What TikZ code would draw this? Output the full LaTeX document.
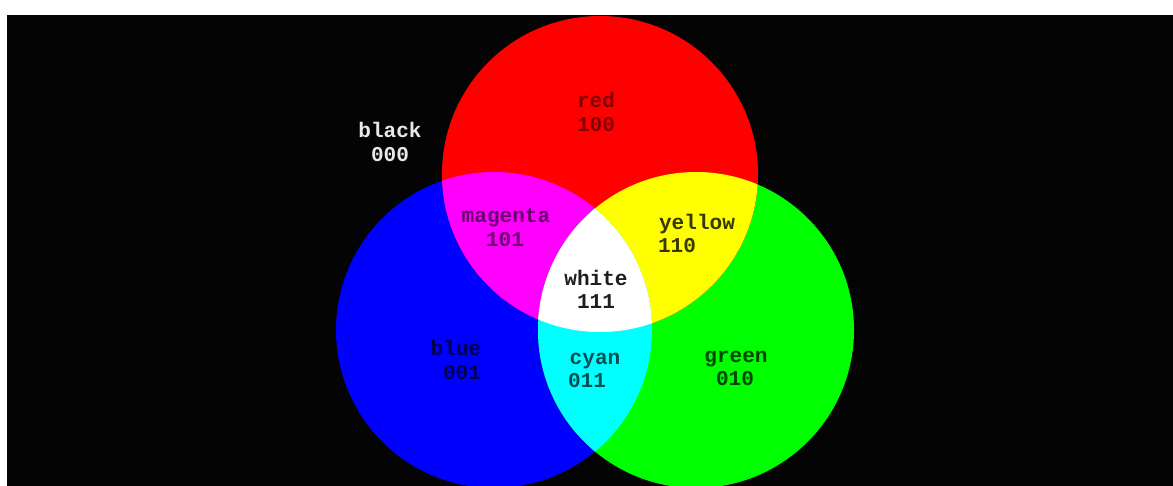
\documentclass[tikz,border=0pt]{standalone}
\usepackage{fontspec}
\setmonofont{Liberation Mono}
\definecolor{bgblack}{RGB}{4,4,4}
\definecolor{purered}{RGB}{255,0,0}
\definecolor{puregreen}{RGB}{0,255,0}
\definecolor{pureblue}{RGB}{0,0,255}
\definecolor{puremagenta}{RGB}{255,0,255}
\definecolor{pureyellow}{RGB}{255,255,0}
\definecolor{purecyan}{RGB}{0,255,255}
\definecolor{purewhite}{RGB}{255,255,255}
\definecolor{txtblack}{RGB}{232,232,232}
\definecolor{txtred}{RGB}{130,0,0}
\definecolor{txtmagenta}{RGB}{105,0,110}
\definecolor{txtyellow}{RGB}{55,55,0}
\definecolor{txtwhite}{RGB}{30,30,30}
\definecolor{txtblue}{RGB}{0,0,80}
\definecolor{txtcyan}{RGB}{0,80,85}
\definecolor{txtgreen}{RGB}{0,70,0}
\tikzset{
  lbl/.style={font=\ttfamily\bfseries\fontsize{18}{21}\selectfont,inner sep=0pt,text height=0.6em,text depth=0pt},
}

\begin{document}
\begin{tikzpicture}[x=0.03cm,y=-0.03cm]
\useasboundingbox[fill=white] (0,0) rectangle (1173,486);
\fill[bgblack] (7,15) rectangle (1173,486);
\def\rad{4.74cm}
\coordinate (R) at (600,174);
\coordinate (B) at (494,330);
\coordinate (G) at (696,330);
\begin{scope}
\clip (7,15) rectangle (1173,486);
\fill[pureblue] (B) circle[radius=\rad];
\fill[puregreen] (G) circle[radius=\rad];
\fill[purered] (R) circle[radius=\rad];
% overlaps
\begin{scope}
\clip (R) circle[radius=\rad];
\fill[puremagenta] (B) circle[radius=\rad];
\fill[pureyellow] (G) circle[radius=\rad];
\end{scope}
\begin{scope}
\clip (B) circle[radius=\rad];
\fill[purecyan] (G) circle[radius=\rad];
\clip (G) circle[radius=\rad];
\fill[purewhite] (R) circle[radius=\rad];
\end{scope}
\end{scope}

\node[lbl,text=txtblack] (blackname) at (390,134) {black};
\node[lbl,text=txtblack] (blackcode) at (390,158) {000};
\node[lbl,text=txtred] (redname) at (596,104) {red};
\node[lbl,text=txtred] (redcode) at (596,128) {100};
\node[lbl,text=txtmagenta] (magentaname) at (506,219) {magenta};
\node[lbl,text=txtmagenta] (magentacode) at (505,243) {101};
\node[lbl,text=txtyellow] (yellowname) at (697,226) {yellow};
\node[lbl,text=txtyellow] (yellowcode) at (677,249) {110};
\node[lbl,text=txtwhite] (whitename) at (596,282) {white};
\node[lbl,text=txtwhite] (whitecode) at (596,305) {111};
\node[lbl,text=txtblue] (bluename) at (456,352) {blue};
\node[lbl,text=txtblue] (bluecode) at (462,376) {001};
\node[lbl,text=txtcyan] (cyanname) at (595,361) {cyan};
\node[lbl,text=txtcyan] (cyancode) at (587,384) {011};
\node[lbl,text=txtgreen] (greenname) at (736,359) {green};
\node[lbl,text=txtgreen] (greencode) at (735,382) {010};
\end{tikzpicture}
\end{document}
